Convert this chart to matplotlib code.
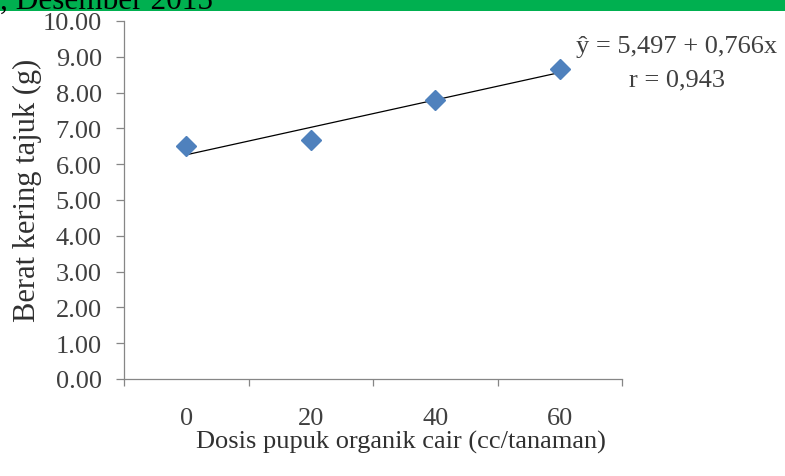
import matplotlib
matplotlib.use("Agg")
import matplotlib.pyplot as plt
import numpy as np

# Data
doses = ["0", "20", "40", "60"]
dry_weight = [6.50, 6.68, 7.80, 8.67]
intercept = 5.497
slope = 0.766
r_value = "0,943"
y_ticks = [0, 1, 2, 3, 4, 5, 6, 7, 8, 9, 10]
header_text = ", Desember 2015"

plt.rcParams['font.family'] = ['Liberation Serif', 'DejaVu Serif']

fig = plt.figure(figsize=(7.85, 4.77), dpi=100)
fig.patch.set_facecolor('white')

# green header band
band_h = 11.5 / 477
fig.add_artist(plt.Rectangle((0, 1 - band_h), 1, band_h, transform=fig.transFigure,
                             facecolor='#00B050', edgecolor='none', zorder=0))
fig.text(0.0, 1 - 8.5 / 477, header_text, fontsize=22.5, color='black',
         ha='left', va='baseline')

ax = fig.add_axes([124 / 785, 1 - 380 / 477, (622 - 124) / 785, (380 - 22) / 477])
idx = np.arange(1, len(doses) + 1)

ax.plot(idx, dry_weight, linestyle='none', marker='D', markersize=10,
        color='#4F81BD', zorder=3)
xs = np.array([idx[0], idx[-1]])
ax.plot(xs, intercept + slope * xs, color='black', linewidth=0.9, zorder=2)

ax.set_xlim(0.5, len(doses) + 0.5)
ax.set_ylim(0, 10)
ax.set_yticks(y_ticks)
ax.set_yticklabels([f"{v:.2f}" for v in y_ticks])
ax.set_xticks(np.arange(0.5, len(doses) + 1, 1.0))
ax.set_xticklabels([])
ax.set_xticks(idx, minor=True)
ax.set_xticklabels(doses, minor=True)

gray = '#868686'
for s in ['top', 'right']:
    ax.spines[s].set_visible(False)
for s in ['left', 'bottom']:
    ax.spines[s].set_color(gray)
    ax.spines[s].set_linewidth(0.9)

ax.tick_params(axis='y', which='major', direction='out', length=6, width=0.9,
               color=gray, labelsize=19, labelcolor='#404040', pad=10)
ax.tick_params(axis='x', which='major', direction='out', length=5, width=0.9,
               color=gray)
ax.tick_params(axis='x', which='minor', length=0, labelsize=19,
               labelcolor='#404040', pad=20)

ax.set_ylabel("Berat kering tajuk (g)", fontsize=22, color='#303030')
ax.yaxis.set_label_coords((42 - 124) / 498, (380 - 190) / 358)
ax.set_xlabel("Dosis pupuk organik cair (cc/tanaman)", fontsize=19,
              color='#303030')
ax.xaxis.set_label_coords((401 - 124) / 498, -0.142)

fig.text(677 / 785, 1 - 47 / 477, "ŷ = 5,497 + 0,766x", fontsize=19,
         color='#404040', ha='center', va='center')
fig.text(677 / 785, 1 - 80 / 477, f"r = {r_value}", fontsize=19,
         color='#404040', ha='center', va='center')

fig.savefig("out.png", dpi=100)
